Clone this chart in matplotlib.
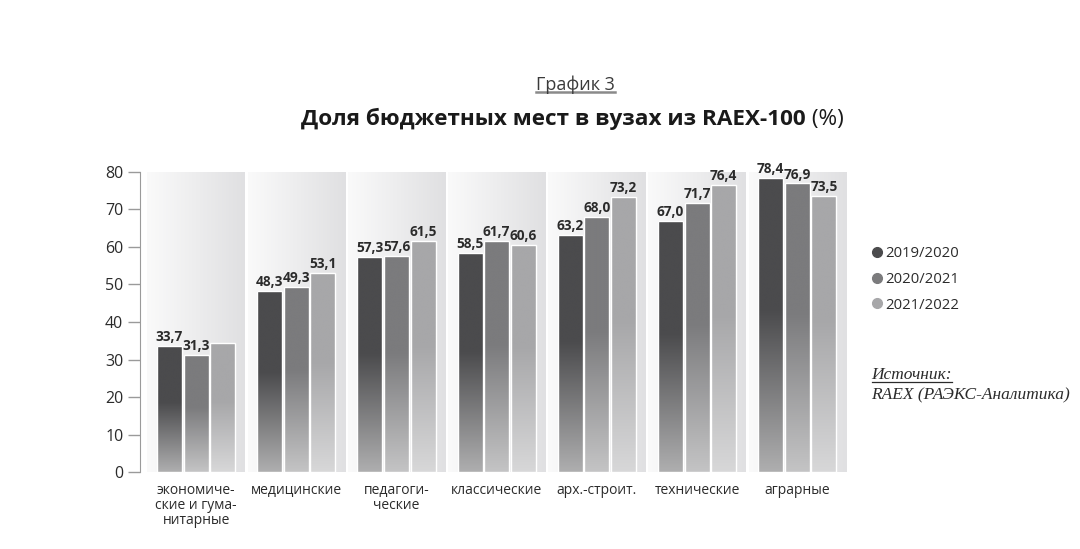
import numpy as np
import matplotlib
matplotlib.use("Agg")
import matplotlib.pyplot as plt
from matplotlib.colors import to_rgb
from matplotlib.lines import Line2D

plt.rcParams['font.family'] = ['Open Sans', 'DejaVu Sans']

categories = ['экономиче-\nские и гума-\nнитарные', 'медицинские', 'педагоги-\nческие',
              'классические', 'арх.-строит.', 'технические', 'аграрные']
years = ['2019/2020', '2020/2021', '2021/2022']
v2019 = [33.7, 48.3, 57.3, 58.5, 63.2, 67.0, 78.4]
v2020 = [31.3, 49.3, 57.6, 61.7, 68.0, 71.7, 76.9]
v2021 = [34.3, 53.1, 61.5, 60.6, 73.2, 76.4, 73.5]
shown = [[True] * 7, [True] * 7, [False] + [True] * 6]  # у первой группы третье значение без подписи
yticks = [0, 10, 20, 30, 40, 50, 60, 70, 80]

colors = ['#4b4b4d', '#7b7b7d', '#a7a7a9']
txt = '#2b2b2b'

fig = plt.figure(figsize=(10.8, 5.49), dpi=100)
ax = fig.add_axes([0.1296, 0.140, 0.655, 0.547])
x = np.arange(len(categories))
ax.set_xlim(-0.56, 6.5)
ax.set_ylim(0, 80)

# фоновые панели с горизонтальным градиентом
panels = ax.bar(x, [80] * len(x), width=0.97, color='none', edgecolor='none', zorder=0)
hg = np.linspace(0, 1, 64).reshape(1, -1)
c1, c2 = np.array(to_rgb('#fafafa')), np.array(to_rgb('#e0e0e2'))
himg = c1 + (c2 - c1) * hg[..., None]
for p in panels:
    im = ax.imshow(himg, extent=[p.get_x(), p.get_x() + p.get_width(), 0, 80],
                   aspect='auto', zorder=0.5, interpolation='bicubic')
    im.set_clip_path(p)

# столбцы: сверху тёмные, книзу светлеют
off = 0.265
tt = np.linspace(0, 1, 128).reshape(-1, 1)  # 0 - низ столбца
f = np.clip(tt / 0.55, 0, 1)
for i, (vals, col) in enumerate(zip([v2019, v2020, v2021], colors)):
    bars = ax.bar(x + (i - 1) * off, vals, width=0.25, color='none',
                  edgecolor='white', linewidth=1.0, zorder=2)
    base = np.array(to_rgb(col))
    light = base + (1 - base) * 0.55
    img = light + (base - light) * f[..., None]
    for b, v, s in zip(bars, vals, shown[i]):
        im = ax.imshow(img, extent=[b.get_x(), b.get_x() + b.get_width(), 0, v],
                       aspect='auto', zorder=1.5, interpolation='bicubic', origin='lower')
        im.set_clip_path(b)
        if s:
            ax.text(b.get_x() + b.get_width() / 2, v + 0.5, ('%.1f' % v).replace('.', ','),
                    ha='center', va='bottom', fontsize=9.8, fontweight='bold', color=txt, zorder=3)

ax.set_yticks(yticks)
ax.set_xticks(x)
ax.set_xticklabels(categories, fontsize=10, color=txt, linespacing=1.0)
ax.tick_params(axis='x', length=0, pad=8)
ax.tick_params(axis='y', length=9, width=1, color='#9a9a9a', labelsize=11.5, labelcolor=txt, pad=3)
for s in ['top', 'right', 'bottom']:
    ax.spines[s].set_visible(False)
ax.spines['left'].set_color('#9a9a9a')

# заголовки
t1 = fig.text(0.533, 0.829, 'График 3', ha='center', va='bottom', fontsize=13, color='#3a3a3a')
t2 = fig.text(0.279, 0.764, 'Доля бюджетных мест в вузах из RAEX-100', ha='left', va='bottom',
              fontsize=16.2, fontweight='bold', color='#1a1a1a')
ax.annotate(' (%)', xy=(1, 0), xycoords=t2, ha='left', va='bottom', fontsize=16.2, color='#1a1a1a')

# легенда
handles = [Line2D([], [], marker='o', linestyle='none', markersize=7, color=c) for c in colors]
fig.legend(handles, years, loc='upper left', bbox_to_anchor=(0.791, 0.576), frameon=False,
           fontsize=10.7, handletextpad=0.0, labelspacing=0.72, handlelength=1.2, labelcolor=txt)

t3 = fig.text(0.807, 0.302, 'Источник:', ha='left', va='bottom', fontsize=12.5,
              family='Liberation Serif', style='italic', color='#2b2b2b')
fig.text(0.807, 0.266, 'RAEX (РАЭКС-Аналитика)', ha='left', va='bottom', fontsize=12.5,
         family='Liberation Serif', style='italic', color='#2b2b2b')

# подчёркивания
fig.canvas.draw()
r = fig.canvas.get_renderer()
for t, c, lw in [(t1, '#8a8a8a', 1.8), (t3, '#2b2b2b', 0.9)]:
    bb = t.get_window_extent(r).transformed(fig.transFigure.inverted())
    fig.add_artist(Line2D([bb.x0, bb.x1], [bb.y0 + 0.003, bb.y0 + 0.003], color=c,
                          lw=lw, transform=fig.transFigure))

fig.savefig('out.png', dpi=100)
